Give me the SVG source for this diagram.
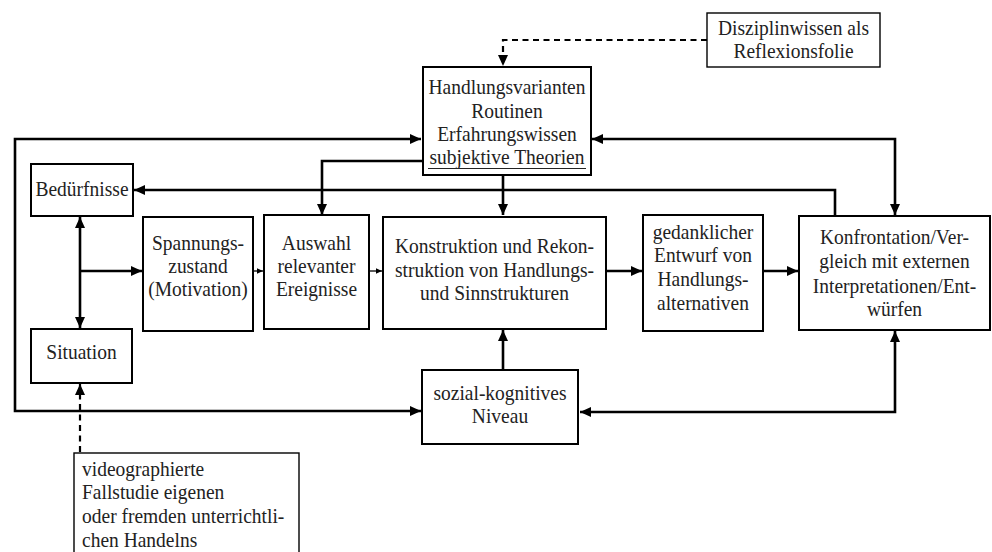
<svg xmlns="http://www.w3.org/2000/svg" width="992" height="552" viewBox="0 0 992 552">
<defs>
<marker id="ah" markerUnits="userSpaceOnUse" markerWidth="12" markerHeight="12" viewBox="0 0 12 12" refX="11" refY="6" orient="auto-start-reverse"><path d="M0,1 L11,6 L0,11 Z" fill="#000"/></marker>
<marker id="as" markerUnits="userSpaceOnUse" markerWidth="7" markerHeight="7" viewBox="0 0 7 7" refX="6.5" refY="3.5" orient="auto"><path d="M0,0.5 L6.5,3.5 L0,6.5 Z" fill="#000"/></marker>
</defs>
<style>
.box{fill:#fff;stroke:#000;stroke-width:2}
.thin{fill:#fff;stroke:#000;stroke-width:1.4}
text{font-family:"Liberation Serif","Times New Roman",serif;font-size:19.5px;fill:#222}
.c{text-anchor:middle}
.ln{fill:none;stroke:#000;stroke-width:2.6}
.lt{fill:none;stroke:#000;stroke-width:1.3}
.dash{fill:none;stroke:#000;stroke-width:2.2;stroke-dasharray:6 4.5}
</style>
<rect width="992" height="552" fill="#fff"/>
<g id="connectors">
<path class="ln" d="M421,411 L15,411 L15,139 L421,139" marker-start="url(#ah)" marker-end="url(#ah)"/>
<path class="ln" d="M423,161 L322,161 L322,215" marker-end="url(#ah)"/>
<path class="ln" d="M503,175 L503,215" marker-end="url(#ah)"/>
<path class="ln" d="M835,216 L835,190 L134,190" marker-end="url(#ah)"/>
<path class="ln" d="M592,139 L895,139 L895,215" marker-start="url(#ah)" marker-end="url(#ah)"/>
<path class="ln" d="M895,331 L895,412 L580,412" marker-start="url(#ah)" marker-end="url(#ah)"/>
<path class="ln" d="M503,370 L503,330" marker-end="url(#ah)"/>
<path class="ln" d="M80,217 L80,328" marker-start="url(#ah)" marker-end="url(#ah)"/>
<path class="ln" d="M80,271 L142,271" marker-end="url(#ah)"/>
<path class="lt" d="M253,271 L263,271" marker-end="url(#as)"/>
<path class="lt" d="M369,271 L382,271" marker-end="url(#as)"/>
<path class="ln" d="M606,271 L642,271" marker-end="url(#ah)"/>
<path class="ln" d="M763,271 L798,271" marker-end="url(#ah)"/>
<path class="dash" d="M707,40 L503,40 L503,66" marker-end="url(#ah)"/>
<path class="dash" d="M80,452 L80,384" marker-end="url(#ah)"/>
</g>
<g id="disziplin">
<rect class="thin" x="707" y="13" width="173" height="54"/>
<text class="c" x="793.5" y="35" transform="matrix(1 0 0 1.1 0 -3.5)">Disziplinwissen als</text>
<text class="c" x="793.5" y="58" transform="matrix(1 0 0 1.1 0 -5.8)">Reflexionsfolie</text>
</g>
<g id="handlungsvarianten">
<rect class="box" x="423" y="67" width="168" height="108" stroke-width="2.6"/>
<text class="c" x="507" y="94" transform="matrix(1 0 0 1.1 0 -9.4)">Handlungsvarianten</text>
<text class="c" x="507" y="118" transform="matrix(1 0 0 1.1 0 -11.8)">Routinen</text>
<text class="c" x="507" y="141" transform="matrix(1 0 0 1.1 0 -14.1)">Erfahrungswissen</text>
<text class="c" x="507" y="164" transform="matrix(1 0 0 1.1 0 -16.4)">subjektive Theorien</text>
<line x1="428" y1="168.5" x2="586" y2="168.5" stroke="#222" stroke-width="1.2"/>
</g>
<g id="beduerfnisse">
<rect class="box" x="31" y="164" width="102" height="52"/>
<text class="c" x="82" y="196" transform="matrix(1 0 0 1.1 0 -19.6)">Bedürfnisse</text>
</g>
<g id="situation">
<rect class="box" x="31" y="329" width="101" height="54"/>
<text class="c" x="81.5" y="359" transform="matrix(1 0 0 1.1 0 -35.9)">Situation</text>
</g>
<g id="spannung">
<rect class="box" x="143" y="217" width="110" height="114"/>
<text class="c" x="198" y="250" transform="matrix(1 0 0 1.1 0 -25)">Spannungs-</text>
<text class="c" x="198" y="273" transform="matrix(1 0 0 1.1 0 -27.3)">zustand</text>
<text class="c" x="198" y="296" transform="matrix(1 0 0 1.1 0 -29.6)">(Motivation)</text>
</g>
<g id="auswahl">
<rect class="box" x="264" y="215" width="105" height="114"/>
<text class="c" x="316.5" y="250" transform="matrix(1 0 0 1.1 0 -25)">Auswahl</text>
<text class="c" x="316.5" y="273" transform="matrix(1 0 0 1.1 0 -27.3)">relevanter</text>
<text class="c" x="316.5" y="296" transform="matrix(1 0 0 1.1 0 -29.6)">Ereignisse</text>
</g>
<g id="konstruktion">
<rect class="box" x="383" y="217" width="223" height="112"/>
<text class="c" x="494.5" y="253" transform="matrix(1 0 0 1.1 0 -25.3)">Konstruktion und Rekon-</text>
<text class="c" x="494.5" y="277" transform="matrix(1 0 0 1.1 0 -27.7)">struktion von Handlungs-</text>
<text class="c" x="494.5" y="300" transform="matrix(1 0 0 1.1 0 -30)">und Sinnstrukturen</text>
</g>
<g id="entwurf">
<rect class="box" x="643" y="215" width="120" height="116"/>
<text class="c" x="703" y="239" transform="matrix(1 0 0 1.1 0 -23.9)">gedanklicher</text>
<text class="c" x="703" y="262" transform="matrix(1 0 0 1.1 0 -26.2)">Entwurf von</text>
<text class="c" x="703" y="286" transform="matrix(1 0 0 1.1 0 -28.6)">Handlungs-</text>
<text class="c" x="703" y="310" transform="matrix(1 0 0 1.1 0 -31)">alternativen</text>
</g>
<g id="konfrontation">
<rect class="box" x="799" y="216" width="191" height="114"/>
<text class="c" x="894.5" y="244" transform="matrix(1 0 0 1.1 0 -24.4)">Konfrontation/Ver-</text>
<text class="c" x="894.5" y="268" transform="matrix(1 0 0 1.1 0 -26.8)">gleich mit externen</text>
<text class="c" x="894.5" y="293" transform="matrix(1 0 0 1.1 0 -29.3)">Interpretationen/Ent-</text>
<text class="c" x="894.5" y="316" transform="matrix(1 0 0 1.1 0 -31.6)">würfen</text>
</g>
<g id="sozial">
<rect class="box" x="422" y="370" width="156" height="74"/>
<text class="c" x="500" y="400" transform="matrix(1 0 0 1.1 0 -40)">sozial-kognitives</text>
<text class="c" x="500" y="423" transform="matrix(1 0 0 1.1 0 -42.3)">Niveau</text>
</g>
<g id="video">
<rect class="thin" x="74" y="453" width="225" height="104"/>
<text x="82" y="476" transform="matrix(1 0 0 1.1 0 -47.6)">videographierte</text>
<text x="82" y="499" transform="matrix(1 0 0 1.1 0 -49.9)">Fallstudie eigenen</text>
<text x="82" y="523" transform="matrix(1 0 0 1.1 0 -52.3)">oder fremden unterrichtli-</text>
<text x="82" y="547" transform="matrix(1 0 0 1.1 0 -54.7)">chen Handelns</text>
</g>
</svg>
